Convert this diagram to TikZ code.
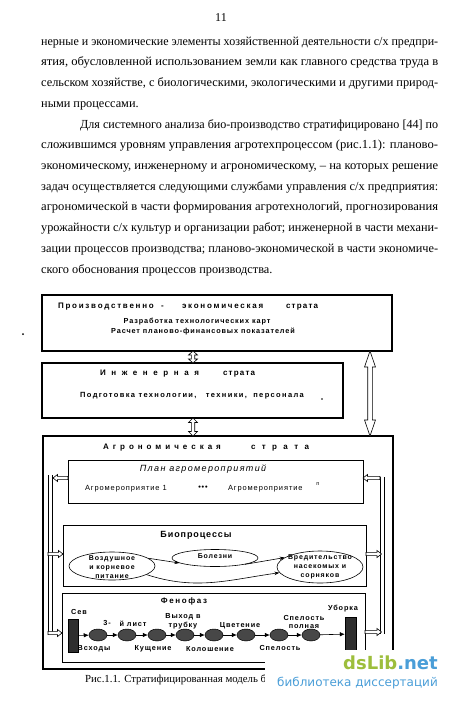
\documentclass[tikz,border=0pt]{standalone}
\usepackage{fontspec}
\usepackage{graphicx}
\setmainfont{Liberation Serif}
\newfontfamily\dsans{Liberation Sans}
\newfontfamily\wmfont{DejaVu Sans}
\usetikzlibrary{shapes.geometric,arrows.meta,calc}
\definecolor{wmgreen}{HTML}{9DBE3C}
\definecolor{wmblue}{HTML}{4A9ED8}
\newcommand{\ls}[1]{\addfontfeature{LetterSpace=#1}}
\newcommand{\jl}[1]{\resizebox{397pt}{\height}{#1}}
\newcommand{\onearrow}[5]{%
  \coordinate (ha) at ($(#2)!#3!(#1)$);
  \draw[blockarr] ($(#1)!#4!90:(#2)$) -- ($(ha)!#4!90:(#2)$) -- ($(ha)!#5!90:(#2)$) -- (#2)
    -- ($(ha)!#5!-90:(#2)$) -- ($(ha)!#4!-90:(#2)$) -- ($(#1)!#4!-90:(#2)$) -- cycle;}
\newcommand{\twoarrow}[5]{%
  \coordinate (hm1) at ($(#1)!#3!(#2)$);
  \coordinate (hm2) at ($(#2)!#3!(#1)$);
  \draw[blockarr] (#1) -- ($(hm1)!#5!90:(#2)$) -- ($(hm1)!#4!90:(#2)$) -- ($(hm2)!#4!-90:(#1)$)
    -- ($(hm2)!#5!-90:(#1)$) -- (#2) -- ($(hm2)!#5!90:(#1)$) -- ($(hm2)!#4!90:(#1)$)
    -- ($(hm1)!#4!-90:(#2)$) -- ($(hm1)!#5!-90:(#2)$) -- cycle;}
\tikzset{
  x=1pt,y=-1pt,
  blockarr/.style={draw=black, fill=white, line width=0.6pt, line join=miter},
  stratabox/.style={draw, line width=2pt, inner sep=0, outer sep=0, anchor=north west},
  subbox/.style={draw, line width=0.6pt, inner sep=0, outer sep=0, anchor=north west},
  body/.style={anchor=mid west, inner sep=0, font=\fontsize{12.3}{14}\selectfont},
  dg/.style={inner sep=0, outer sep=0, align=center, font=\dsans\bfseries\fontsize{7.3}{9}\selectfont\ls{12}},
  dgt/.style={inner sep=0, outer sep=0, anchor=mid west, font=\dsans\bfseries\fontsize{8}{9}\selectfont},
  rail/.style={draw, line width=0.5pt, double, double distance=3.5pt},
  bioell/.style={ellipse, draw, line width=0.6pt, inner sep=0, fill=white},
  phell/.style={ellipse, draw, line width=0.5pt, inner sep=0, minimum width=18pt, minimum height=12pt, fill=black!72},
  phbar/.style={draw, inner sep=0, fill=black!82, minimum width=10pt, minimum height=33pt},
  pharr/.style={line width=0.6pt, -{Latex[length=5pt,width=4.5pt]}},
  bioarr/.style={line width=0.6pt, -{Stealth[length=5pt,width=3.5pt]}},
}
\begin{document}
\begin{tikzpicture}
\useasboundingbox (0,0) rectangle (450,705);
\fill[white] (0,0) rectangle (450,705);
% ---------- page text ----------
\node[inner sep=0, font=\fontsize{12}{14}\selectfont] (pg) at (221,18) {11};
\node[body] (t1) at (41,43) {\jl{нерные и экономические элементы хозяйственной деятельности с/х предпри-}};
\node[body] (t2) at (41,63.7) {\jl{ятия, обусловленной использованием земли как главного средства труда в}};
\node[body] (t3) at (41,84.4) {\jl{сельском хозяйстве, с биологическими, экологическими и другими природ-}};
\node[body] (t4) at (41,105.1) {ными процессами.};
\node[body] (t5) at (80,125.8) {\resizebox{358pt}{\height}{Для системного анализа био-производство стратифицировано [44] по}};
\node[body] (t6) at (41,146.5) {\jl{сложившимся уровням управления агротехпроцессом (рис.1.1): планово-}};
\node[body] (t7) at (41,167.2) {\jl{экономическому, инженерному и агрономическому, – на которых решение}};
\node[body] (t8) at (41,187.9) {\jl{задач осуществляется следующими службами управления с/х предприятия:}};
\node[body] (t9) at (41,208.6) {\jl{агрономической в части формирования агротехнологий, прогнозирования}};
\node[body] (t10) at (41,229.3) {\jl{урожайности с/х культур и организации работ; инженерной в части механи-}};
\node[body] (t11) at (41,250) {\jl{зации процессов производства; планово-экономической в части экономиче-}};
\node[body] (t12) at (41,270.7) {ского обоснования процессов производства.};
% ---------- strata boxes ----------
\node[stratabox, minimum width=350pt, minimum height=56pt] (pe) at (42,295) {};
\node[stratabox, minimum width=301pt, minimum height=55pt] (eng) at (42,363) {};
\node[stratabox, minimum width=350pt, minimum height=233pt] (agro) at (43,436) {};
\node[subbox, minimum width=295pt, minimum height=43pt] (plan) at (68,460) {};
\node[subbox, minimum width=303pt, minimum height=61pt] (bio) at (63,525) {};
\node[subbox, minimum width=303pt, minimum height=69pt] (phen) at (62,593) {};
% titles
\node[dgt, font=\dsans\bfseries\fontsize{8}{9}\selectfont\ls{22}] (pet1) at (58,306) {Производственно};
\node[dgt, font=\dsans\bfseries\fontsize{8}{9}\selectfont] (pet2) at (161,306) {-};
\node[dgt, font=\dsans\bfseries\fontsize{8}{9}\selectfont\ls{22}] (pet3) at (182,306) {экономическая};
\node[dgt, font=\dsans\bfseries\fontsize{8}{9}\selectfont\ls{15}] (pet4) at (286,306) {страта};
\node[dg] (pel1) at (197,322) {Разработка технологических карт};
\node[dg] (pel2) at (203,332) {Расчет планово-финансовых показателей};
\node[dgt, font=\dsans\bfseries\fontsize{8}{9}\selectfont\ls{70}] (ent1) at (100,373) {Инженерная};
\node[dgt, font=\dsans\bfseries\fontsize{8}{9}\selectfont\ls{15}] (ent2) at (223,373) {страта};
\node[dg, font=\dsans\bfseries\fontsize{7.5}{9}\selectfont\ls{18}] (enl1) at (192,396) {Подготовка технологии,\hspace{6pt} техники,\hspace{3pt} персонала};
\node[dgt, font=\dsans\bfseries\fontsize{8}{9}\selectfont\ls{50}] (agt1) at (103,447) {Агрономическая};
\node[dgt, font=\dsans\bfseries\fontsize{8}{9}\selectfont\ls{80}] (agt2) at (251,447) {страта};
\node[inner sep=0, font=\dsans\itshape\fontsize{9}{10}\selectfont\ls{15}] (plt) at (203,469) {План агромероприятий};
\node[dg, anchor=mid west, font=\dsans\fontsize{7.5}{9}\selectfont\ls{12}] (pl1) at (85,488) {Агромероприятие 1};
\node[dg] (pldots) at (203,488) {•••};
\node[dg, anchor=mid west, font=\dsans\fontsize{7.5}{9}\selectfont\ls{12}] (pl2) at (228,488) {Агромероприятие};
\node[dg, font=\dsans\fontsize{5.5}{6}\selectfont] (pln) at (318,484) {n};
\node[dg, font=\dsans\bfseries\fontsize{9}{10}\selectfont\ls{10}] (biot) at (196,535) {Биопроцессы};
% bio ellipses
\node[bioell, minimum width=86pt, minimum height=28pt] (b1) at (112,566) {};
\node[dg, font=\dsans\bfseries\fontsize{7}{9}\selectfont\ls{12}] (b1t) at (112,567) {Воздушное\\и корневое\\питание};
\node[bioell, minimum width=86pt, minimum height=17pt] (b2) at (215,558) {};
\node[dg, font=\dsans\bfseries\fontsize{7}{9}\selectfont\ls{12}] (b2t) at (215,556) {Болезни};
\node[bioell, minimum width=86pt, minimum height=32pt] (b3) at (320,567) {};
\node[dg, font=\dsans\bfseries\fontsize{7}{9}\selectfont\ls{12}] (b3t) at (320,567) {Вредительство\\насекомых и\\сорняков};
\draw[bioarr] (b1.12) -- (b2.188);
\draw[bioarr] (b2.-12) -- (b3.165);
\draw[bioarr] (b1.-14) to[out=-18, in=188] (b3.188);
% vertical strata arrows
\coordinate (s1) at ($(pe.south west)+(151,0)$);
\coordinate (s2) at ($(eng.north west)+(151,0)$);
\coordinate (s3) at ($(eng.south west)+(151,0)$);
\coordinate (s4) at ($(agro.north west)+(150,0)$);
\coordinate (r1) at ($(pe.south east)+(-22,0)$);
\coordinate (r2) at ($(agro.north east)+(-23,0)$);
\twoarrow{s1}{s2}{4pt}{1.7pt}{4.5pt}
\twoarrow{s3}{s4}{4.5pt}{1.7pt}{4.5pt}
\twoarrow{r1}{r2}{16pt}{2.3pt}{5.5pt}
% rails
\coordinate (lt) at (50.3,475);
\coordinate (lb) at (50.3,634);
\coordinate (rt) at (382.3,477);
\coordinate (rb) at (382.3,634);
\draw[rail] (lt) -- (lb);
\draw[rail] (rt) -- (rb);
\coordinate (a1s) at ($(plan.north west)+(0,18)$);
\coordinate (a1e) at (53,478);
\coordinate (a2s) at (48,554);
\coordinate (a2e) at ($(bio.north west)+(0,29)$);
\coordinate (a3s) at (48,633);
\coordinate (a3e) at ($(phen.north west)+(0,40)$);
\coordinate (a4s) at (380,478);
\coordinate (a4e) at ($(plan.north east)+(0,18)$);
\coordinate (a5s) at ($(bio.north east)+(0,29)$);
\coordinate (a5e) at (381.5,554);
\coordinate (a6s) at ($(phen.north east)+(0,39)$);
\coordinate (a6e) at (381.5,632);
\onearrow{a1s}{a1e}{4.5pt}{1.6pt}{3.5pt}
\onearrow{a2s}{a2e}{4.5pt}{1.6pt}{3.5pt}
\onearrow{a3s}{a3e}{4.5pt}{1.6pt}{3.5pt}
\onearrow{a4s}{a4e}{4.5pt}{1.6pt}{3.5pt}
\onearrow{a5s}{a5e}{4.5pt}{1.6pt}{3.5pt}
\onearrow{a6s}{a6e}{4.5pt}{1.6pt}{3.5pt}
% phenophases
\node[dg, font=\dsans\bfseries\fontsize{8}{9}\selectfont\ls{20}] (pht) at (184,601) {Фенофаз};
\node[phbar] (sev) at (73,635.5) {};
\node[phell] (p1) at (98,635) {};
\node[phell] (p2) at (127,635) {};
\node[phell] (p3) at (157,635) {};
\node[phell] (p4) at (185,635) {};
\node[phell] (p5) at (214,635) {};
\node[phell] (p6) at (246,635) {};
\node[phell] (p7) at (279,635) {};
\node[phell] (p8) at (311,635) {};
\node[phbar, minimum width=11pt] (ub) at (350.5,634) {};
\draw[pharr] (sev) -- (p1);
\draw[pharr] (p1) -- (p2);
\draw[pharr] (p2) -- (p3);
\draw[pharr] (p3) -- (p4);
\draw[pharr] (p4) -- (p5);
\draw[pharr] (p5) -- (p6);
\draw[pharr] (p6) -- (p7);
\draw[pharr] (p7) -- (p8);
\draw[pharr] (p8) -- (ub);
\node[dg] (l1) at (79,612) {Сев};
\node[dg] (l2) at (107,623) {3-};
\node[dg] (l3) at (133,624) {й лист};
\node[dg, font=\dsans\bfseries\fontsize{7.3}{9}\selectfont\ls{12}] (l4) at (183,621) {Выход в\\трубку};
\node[dg] (l5) at (240,626) {Цветение};
\node[dg, font=\dsans\bfseries\fontsize{7.3}{8.3}\selectfont\ls{12}] (l6) at (304,622) {Спелость\\полная};
\node[dg] (l7) at (343,609) {Уборка};
\node[dg] (l8) at (94,649) {Всходы};
\node[dg] (l9) at (153,649) {Кущение};
\node[dg] (l10) at (210,649) {Колошение};
\node[dg] (l11) at (280,648) {Спелость};
% specks
\fill (23,334) circle (1);
\fill (322,399) circle (0.8);
% caption
\node[anchor=mid west, inner sep=0, font=\fontsize{10.8}{13}\selectfont] (cap) at (85,680) {Рис.1.1. Стратифицированная модель би};
% watermark
\fill[white] (265,650) rectangle (450,705);
\node[anchor=mid east, inner sep=0, font=\wmfont\bfseries\fontsize{18}{20}\selectfont] (wm1) at (438,667) {\textcolor{wmgreen}{dsLib}\textcolor{wmblue}{.net}};
\node[anchor=mid east, inner sep=0, font=\wmfont\fontsize{12}{14}\selectfont, text=wmblue] (wm2) at (438,684) {библиотека диссертаций};
\end{tikzpicture}
\end{document}
